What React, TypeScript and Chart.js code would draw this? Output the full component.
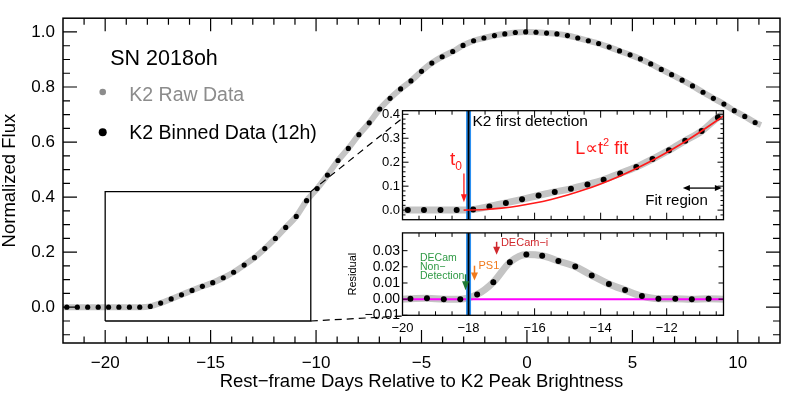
import React, { useEffect, useRef } from 'react';
import { Chart, registerables } from 'chart.js';
Chart.register(...registerables);

const FONT = '"Liberation Sans", "DejaVu Sans", Arial, sans-serif';

// ---------------- data ----------------
// 12h binned K2 light curve (rest-frame days, normalized flux)
const binX = [-21.82, -21.32, -20.83, -20.33, -19.84, -19.35, -18.85, -18.36, -17.86, -17.37, -16.87, -16.38, -15.88, -15.39,
  -14.90, -14.40, -13.91, -13.41, -12.92, -12.43, -11.93, -11.44, -10.94, -10.45, -9.95, -9.46, -8.96, -8.47, -7.97, -7.48,
  -6.98, -6.49, -5.99, -5.50, -5.00, -4.51, -4.02, -3.52, -3.03, -2.53, -2.04, -1.54, -1.05, -0.55, -0.06, 0.43, 0.93, 1.42,
  1.92, 2.41, 2.91, 3.40, 3.90, 4.39, 4.89, 5.38, 5.87, 6.37, 6.86, 7.36, 7.85, 8.35, 8.84, 9.34, 9.83, 10.33, 10.82];
const binY = [0, 0, 0, 0, 0, 0, 0, 0, 0.003, 0.015, 0.030, 0.045, 0.061, 0.076,
  0.089, 0.107, 0.127, 0.153, 0.180, 0.213, 0.250, 0.290, 0.330, 0.387, 0.431, 0.480, 0.533, 0.577, 0.627, 0.670,
  0.720, 0.759, 0.793, 0.822, 0.857, 0.887, 0.910, 0.929, 0.951, 0.968, 0.978, 0.987, 0.993, 0.998, 1.000, 0.999, 0.996, 0.993,
  0.987, 0.978, 0.968, 0.958, 0.945, 0.931, 0.917, 0.902, 0.884, 0.864, 0.845, 0.825, 0.804, 0.781, 0.759, 0.738, 0.714, 0.693, 0.671];
// raw-data band end points
const rawEdgeX = [-22.0, 11.1];
const rawEdgeY = [0.0, 0.662];

// residuals (data - t^2 fit)
const resX = [-19.76, -19.26, -18.75, -18.25, -17.74, -17.25, -16.75, -16.25, -15.77, -15.28, -14.77, -14.27, -13.75, -13.26, -12.75, -12.25, -11.74, -11.24, -10.73];
const resY = [0.0003, 0.0006, 0.0, 0.0, 0.0029, 0.0105, 0.0228, 0.0277, 0.0269, 0.0236, 0.0202, 0.0147, 0.0094, 0.0056, 0.0019, 0.0003, 0.0003, -0.0001, 0.0003];
const resErr = [0.0012, 0.0012, 0.0012, 0.0012, 0.0014, 0.0017, 0.0017, 0.0015, 0.0015, 0.0013, 0.0013, 0.0013, 0.0013, 0.0013, 0.0013, 0.0012, 0.0012, 0.0012, 0.0012];
const resRawEdgeX = [-20.0, -10.28];
const resRawEdgeY = [0.0, 0.0];

// L ∝ t^2 fit curve
const fitX = [-18.15, -17.5, -17.0, -16.5, -16.0, -15.5, -15.0, -14.5, -14.0, -13.5, -13.0, -12.5, -12.0, -11.5, -11.0, -10.5, -10.2];
const fitY = [0, 0.0027, 0.0084, 0.0173, 0.0294, 0.0447, 0.0631, 0.0847, 0.1095, 0.1375, 0.1687, 0.203, 0.2405, 0.2813, 0.3252, 0.372, 0.401];

const firstDetection = -18.0;
const zoomBoxX = [-20, -10.25];
const zoomBoxY = [-0.05, 0.42];
const insetCornerX = -5.9;
const insetCornerY = [0.687, -0.032];

// axes / ticks
const MAIN_X_MAJOR = [-20, -15, -10, -5, 0, 5, 10];
const MAIN_X_LABELS = ['−20', '−15', '−10', '−5', '0', '5', '10'];
const MAIN_X_MINOR = [-21, -19, -18, -17, -16, -14, -13, -12, -11, -9, -8, -7, -6, -4, -3, -2, -1, 1, 2, 3, 4, 6, 7, 8, 9, 11];
const MAIN_Y_MAJOR = [0, 0.2, 0.4, 0.6, 0.8, 1.0];
const MAIN_Y_LABELS = ['0.0', '0.2', '0.4', '0.6', '0.8', '1.0'];
const MAIN_Y_MINOR = [-0.1, -0.05, 0.05, 0.1, 0.15, 0.25, 0.3, 0.35, 0.45, 0.5, 0.55, 0.65, 0.7, 0.75, 0.85, 0.9, 0.95];

const INSET_X_MAJOR = [-20, -18, -16, -14, -12];
const INSET_X_LABELS = ['−20', '−18', '−16', '−14', '−12'];
const INSET_X_MINOR = [-19.5, -19, -18.5, -17.5, -17, -16.5, -15.5, -15, -14.5, -13.5, -13, -12.5, -11.5, -11, -10.5];
const TOP_Y_MAJOR = [0, 0.1, 0.2, 0.3, 0.4];
const TOP_Y_LABELS = ['0.0', '0.1', '0.2', '0.3', '0.4'];
const TOP_Y_MINOR = [-0.02, 0.02, 0.04, 0.06, 0.08, 0.12, 0.14, 0.16, 0.18, 0.22, 0.24, 0.26, 0.28, 0.32, 0.34, 0.36, 0.38];
const RES_Y_MAJOR = [-0.01, 0, 0.01, 0.02, 0.03];
const RES_Y_LABELS = ['−0.01', '0.00', '0.01', '0.02', '0.03'];

const BAND = '#c4c4c4';
const RED = '#ff1a1a';
const DRED = '#d0282d';
const ORANGE = '#f07a1e';
const GREEN = '#2f9a45';
const DGREEN = '#1d7a34';
const BLUE = '#2b8ff0';
const MAGENTA = '#ff00ff';
const GREY_TXT = '#8c8c8c';

// ---------------- helpers ----------------
const pts = (xs: number[], ys: number[]) => xs.map((x, i) => ({ x, y: ys[i] }));

function makeDecor(cfg: any) {
  return {
    id: 'decor',
    afterDatasetsDraw(chart: any) {
      const { ctx, chartArea: a, scales } = chart;
      const X = (v: number) => scales.x.getPixelForValue(v);
      const Y = (v: number) => scales.y.getPixelForValue(v);
      ctx.save();
      const f = cfg.frame;
      ctx.strokeStyle = '#000';
      ctx.lineWidth = f.tlw;
      ctx.beginPath();
      const seg = (x1: number, y1: number, x2: number, y2: number) => { ctx.moveTo(x1, y1); ctx.lineTo(x2, y2); };
      const xl: [number[], number][] = [[f.xMajor, f.xMajLen], [f.xMinor, f.xMinLen]];
      for (const [vals, len] of xl) for (const v of vals) { const p = X(v); seg(p, a.bottom, p, a.bottom - len); seg(p, a.top, p, a.top + len); }
      const yl: [number[], number][] = [[f.yMajor, f.yMajLen], [f.yMinor, f.yMinLen]];
      for (const [vals, len] of yl) for (const v of vals) { const p = Y(v); seg(a.left, p, a.left + len, p); seg(a.right, p, a.right - len, p); }
      ctx.stroke();
      ctx.lineWidth = f.lw;
      ctx.strokeRect(a.left, a.top, a.right - a.left, a.bottom - a.top);

      for (const d of cfg.dots || []) {
        ctx.fillStyle = d.color;
        ctx.beginPath(); ctx.arc(X(d.x), Y(d.y), d.r, 0, Math.PI * 2); ctx.fill();
      }
      for (const ar of cfg.arrows || []) {
        const x = X(ar.x), y1 = Y(ar.y1), y2 = Y(ar.y2);
        const dir = Math.sign(y2 - y1);
        ctx.strokeStyle = ar.color; ctx.fillStyle = ar.color; ctx.lineWidth = ar.lw;
        ctx.beginPath(); ctx.moveTo(x, y1); ctx.lineTo(x, y2 - dir * ar.hl * 0.7); ctx.stroke();
        ctx.beginPath(); ctx.moveTo(x, y2); ctx.lineTo(x - ar.hw, y2 - dir * ar.hl); ctx.lineTo(x + ar.hw, y2 - dir * ar.hl); ctx.closePath(); ctx.fill();
      }
      for (const ar of cfg.harrows || []) {
        const y = Y(ar.y), x1 = X(ar.x1), x2 = X(ar.x2);
        ctx.strokeStyle = ar.color; ctx.fillStyle = ar.color; ctx.lineWidth = ar.lw;
        ctx.beginPath(); ctx.moveTo(x1 + ar.hl * 0.7, y); ctx.lineTo(x2 - ar.hl * 0.7, y); ctx.stroke();
        ctx.beginPath(); ctx.moveTo(x1, y); ctx.lineTo(x1 + ar.hl, y - ar.hw); ctx.lineTo(x1 + ar.hl, y + ar.hw); ctx.closePath(); ctx.fill();
        ctx.beginPath(); ctx.moveTo(x2, y); ctx.lineTo(x2 - ar.hl, y - ar.hw); ctx.lineTo(x2 - ar.hl, y + ar.hw); ctx.closePath(); ctx.fill();
      }
      ctx.textBaseline = 'middle'; ctx.textAlign = 'left';
      for (const tx of cfg.texts || []) {
        let px = X(tx.x); const py = Y(tx.y);
        ctx.fillStyle = tx.color;
        for (const p of tx.parts) {
          ctx.font = `${p.size}px ${FONT}`;
          ctx.fillText(p.t, px, py + (p.dy || 0));
          px += ctx.measureText(p.t).width;
        }
      }
      ctx.restore();
    },
  };
}

const baseOpts = {
  responsive: false,
  animation: false,
  events: [],
  plugins: { legend: { display: false }, tooltip: { enabled: false } },
};
const noGrid = { grid: { display: false, drawTicks: false }, border: { display: false } };
const font = (size: number) => ({ family: FONT, size });

// ---------------- main chart ----------------
function mainConfig(): any {
  const raw = [{ x: rawEdgeX[0], y: rawEdgeY[0] }, ...pts(binX, binY), { x: rawEdgeX[1], y: rawEdgeY[1] }];
  const box = [
    { x: zoomBoxX[0], y: zoomBoxY[0] }, { x: zoomBoxX[1], y: zoomBoxY[0] }, { x: zoomBoxX[1], y: zoomBoxY[1] },
    { x: zoomBoxX[0], y: zoomBoxY[1] }, { x: zoomBoxX[0], y: zoomBoxY[0] },
  ];
  const dash1 = [{ x: zoomBoxX[1], y: zoomBoxY[1] }, { x: insetCornerX, y: insetCornerY[0] }];
  const dash2 = [{ x: zoomBoxX[1], y: zoomBoxY[0] }, { x: insetCornerX, y: insetCornerY[1] }];
  return {
    type: 'line',
    data: {
      datasets: [
        { data: raw, borderColor: BAND, borderWidth: 6, pointRadius: 0, cubicInterpolationMode: 'monotone', order: 5 },
        { data: pts(binX, binY), showLine: false, pointRadius: 2.6, pointBackgroundColor: '#000', pointBorderWidth: 0, order: 4 },
        { data: box, borderColor: '#000', borderWidth: 1.3, pointRadius: 0, order: 2 },
        { data: dash1, borderColor: '#000', borderWidth: 1.2, borderDash: [7, 5], pointRadius: 0, order: 1 },
        { data: dash2, borderColor: '#000', borderWidth: 1.2, borderDash: [7, 5], pointRadius: 0, order: 1 },
      ],
    },
    options: {
      ...baseOpts,
      layout: { padding: { left: 0, right: 9, top: 7, bottom: 0 } },
      scales: {
        x: {
          type: 'linear', min: -22, max: 12, ...noGrid,
          afterBuildTicks: (s: any) => { s.ticks = MAIN_X_MAJOR.map((v) => ({ value: v })); },
          afterFit: (s: any) => { s.height = 52; },
          ticks: { autoSkip: false, maxRotation: 0, padding: 10, color: '#000', font: font(17), callback: (_v: any, i: number) => MAIN_X_LABELS[i] },
          title: { display: true, text: 'Rest−frame Days Relative to K2 Peak Brightness', color: '#000', font: font(18.5), padding: { top: 0, bottom: 2 } },
        },
        y: {
          type: 'linear', min: -0.13, max: 1.05, ...noGrid,
          afterBuildTicks: (s: any) => { s.ticks = MAIN_Y_MAJOR.map((v) => ({ value: v })); },
          afterFit: (s: any) => { s.width = 63; },
          ticks: { autoSkip: false, padding: 8, color: '#000', font: font(17), callback: (_v: any, i: number) => MAIN_Y_LABELS[i] },
          title: { display: true, text: 'Normalized Flux', color: '#000', font: font(18.5), padding: { top: -1, bottom: 0 } },
        },
      },
    },
    plugins: [makeDecor({
      frame: { lw: 1.5, tlw: 1.2, xMajor: MAIN_X_MAJOR, xMinor: MAIN_X_MINOR, yMajor: MAIN_Y_MAJOR, yMinor: MAIN_Y_MINOR, xMajLen: 13, xMinLen: 6.5, yMajLen: 14, yMinLen: 7 },
      dots: [{ x: -20.117, y: 0.782, r: 3.3, color: GREY_TXT }, { x: -20.117, y: 0.636, r: 4, color: '#000' }],
      texts: [
        { x: -19.76, y: 0.901, color: '#000', parts: [{ t: 'SN 2018oh', size: 21.5 }] },
        { x: -18.856, y: 0.767, color: GREY_TXT, parts: [{ t: 'K2 Raw Data', size: 19.5 }] },
        { x: -18.856, y: 0.629, color: '#000', parts: [{ t: 'K2 Binned Data (12h)', size: 19.5 }] },
      ],
    })],
  };
}

// ---------------- inset: top panel ----------------
const INSET_X = { min: -20, max: -10.28 };

function topConfig(): any {
  return {
    type: 'line',
    data: {
      datasets: [
        { data: pts(binX, binY), borderColor: BAND, borderWidth: 7, pointRadius: 0, cubicInterpolationMode: 'monotone', clip: 0, order: 10 },
        { data: [{ x: firstDetection, y: -0.04 }, { x: firstDetection, y: 0.415 }], borderColor: BLUE, borderWidth: 5, pointRadius: 0, clip: 0, order: 9 },
        { data: [{ x: firstDetection, y: -0.04 }, { x: firstDetection, y: 0.415 }], borderColor: '#000', borderWidth: 1.8, pointRadius: 0, clip: 0, order: 8 },
        { data: pts(binX, binY), showLine: false, pointRadius: 3, pointBackgroundColor: '#000', pointBorderWidth: 0, order: 7 },
        { data: pts(fitX, fitY), borderColor: RED, borderWidth: 1.6, pointRadius: 0, cubicInterpolationMode: 'monotone', clip: 0, order: 6 },
      ],
    },
    options: {
      ...baseOpts,
      layout: { padding: { left: 0, right: 6.5, top: 10.7, bottom: 3 } },
      scales: {
        x: { type: 'linear', min: INSET_X.min, max: INSET_X.max, display: false },
        y: {
          type: 'linear', min: -0.04, max: 0.415, ...noGrid,
          afterBuildTicks: (s: any) => { s.ticks = TOP_Y_MAJOR.map((v) => ({ value: v })); },
          afterFit: (s: any) => { s.width = 62.5; },
          ticks: { autoSkip: false, padding: 2.5, color: '#000', font: font(13), callback: (_v: any, i: number) => TOP_Y_LABELS[i] },
        },
      },
    },
    plugins: [makeDecor({
      frame: { lw: 1.3, tlw: 1, xMajor: INSET_X_MAJOR, xMinor: INSET_X_MINOR, yMajor: TOP_Y_MAJOR, yMinor: TOP_Y_MINOR, xMajLen: 7, xMinLen: 4, yMajLen: 6, yMinLen: 3 },
      arrows: [{ x: -18.14, y1: 0.153, y2: 0.033, color: RED, lw: 1.3, hw: 3, hl: 8 }],
      harrows: [{ y: 0.092, x1: -11.51, x2: -10.33, color: '#000', lw: 1.3, hw: 3, hl: 7 }],
      texts: [
        { x: -17.88, y: 0.369, color: '#000', parts: [{ t: 'K2 first detection', size: 15.5 }] },
        { x: -18.56, y: 0.209, color: RED, parts: [{ t: 't', size: 19 }, { t: '0', size: 12, dy: 6.7 }] },
        { x: -14.77, y: 0.255, color: RED, parts: [{ t: 'L∝t', size: 18 }, { t: '2', size: 11, dy: -6 }, { t: ' fit', size: 18 }] },
        { x: -12.65, y: 0.038, color: '#000', parts: [{ t: 'Fit region', size: 15 }] },
      ],
    })],
  };
}

// ---------------- inset: residual panel ----------------
function resConfig(): any {
  const rawRes = [{ x: resRawEdgeX[0], y: resRawEdgeY[0] }, ...pts(resX, resY), { x: resRawEdgeX[1], y: resRawEdgeY[1] }];
  const err: any[] = [];
  resX.forEach((x, i) => { err.push({ x, y: resY[i] - resErr[i] }, { x, y: resY[i] + resErr[i] }, { x, y: null }); });
  return {
    type: 'line',
    data: {
      datasets: [
        { data: rawRes, borderColor: BAND, borderWidth: 7, pointRadius: 0, cubicInterpolationMode: 'monotone', clip: 0, order: 10 },
        { data: [{ x: INSET_X.min, y: 0 }, { x: INSET_X.max, y: 0 }], borderColor: MAGENTA, borderWidth: 2, pointRadius: 0, clip: 0, order: 9 },
        { data: [{ x: firstDetection, y: -0.01 }, { x: firstDetection, y: 0.041 }], borderColor: BLUE, borderWidth: 5, pointRadius: 0, clip: 0, order: 8 },
        { data: [{ x: firstDetection, y: -0.01 }, { x: firstDetection, y: 0.041 }], borderColor: '#000', borderWidth: 1.8, pointRadius: 0, clip: 0, order: 7 },
        { data: err, borderColor: '#000', borderWidth: 1, pointRadius: 0, spanGaps: false, order: 6 },
        { data: pts(resX, resY), showLine: false, pointRadius: 3, pointBackgroundColor: '#000', pointBorderWidth: 0, order: 5 },
      ],
    },
    options: {
      ...baseOpts,
      layout: { padding: { left: 0, right: 6.5, top: 5, bottom: 0 } },
      scales: {
        x: {
          type: 'linear', min: INSET_X.min, max: INSET_X.max, ...noGrid,
          afterBuildTicks: (s: any) => { s.ticks = INSET_X_MAJOR.map((v) => ({ value: v })); },
          afterFit: (s: any) => { s.height = 26.7; },
          ticks: { autoSkip: false, maxRotation: 0, padding: 5, color: '#000', font: font(13), callback: (_v: any, i: number) => INSET_X_LABELS[i] },
        },
        y: {
          type: 'linear', min: -0.01, max: 0.041, ...noGrid,
          afterBuildTicks: (s: any) => { s.ticks = RES_Y_MAJOR.map((v) => ({ value: v })); },
          afterFit: (s: any) => { s.width = 62.5; },
          ticks: { autoSkip: false, padding: 2.5, color: '#000', font: font(14), callback: (_v: any, i: number) => RES_Y_LABELS[i] },
          title: { display: true, text: 'Residual', color: '#000', font: font(11), padding: { top: 6.4, bottom: 0 } },
        },
      },
    },
    plugins: [makeDecor({
      frame: { lw: 1.3, tlw: 1, xMajor: INSET_X_MAJOR, xMinor: INSET_X_MINOR, yMajor: RES_Y_MAJOR, yMinor: [], xMajLen: 7, xMinLen: 4, yMajLen: 5, yMinLen: 0 },
      arrows: [
        { x: -18.09, y1: 0.0154, y2: 0.0055, color: DGREEN, lw: 1.5, hw: 3.5, hl: 9 },
        { x: -17.82, y1: 0.0207, y2: 0.0116, color: ORANGE, lw: 1.5, hw: 3.5, hl: 8 },
        { x: -17.15, y1: 0.0355, y2: 0.0274, color: DRED, lw: 1.5, hw: 3.5, hl: 8 },
      ],
      texts: [
        { x: -19.47, y: 0.0252, color: GREEN, parts: [{ t: 'DECam', size: 10.5 }] },
        { x: -19.47, y: 0.0197, color: GREEN, parts: [{ t: 'Non−', size: 10.5 }] },
        { x: -19.47, y: 0.0145, color: GREEN, parts: [{ t: 'Detection', size: 10.5 }] },
        { x: -17.70, y: 0.0204, color: ORANGE, parts: [{ t: 'PS1', size: 11 }] },
        { x: -17.02, y: 0.0345, color: DRED, parts: [{ t: 'DECam−i', size: 11 }] },
      ],
    })],
  };
}

export default function App() {
  const mainRef = useRef<HTMLCanvasElement>(null);
  const topRef = useRef<HTMLCanvasElement>(null);
  const resRef = useRef<HTMLCanvasElement>(null);
  useEffect(() => {
    const charts = [
      new Chart(mainRef.current as HTMLCanvasElement, mainConfig()),
      new Chart(topRef.current as HTMLCanvasElement, topConfig()),
      new Chart(resRef.current as HTMLCanvasElement, resConfig()),
    ];
    return () => charts.forEach((c) => c.destroy());
  }, []);
  return (
    <div style={{ position: 'absolute', left: 0, top: 0, width: 789, height: 395, background: '#fff' }}>
      <canvas ref={mainRef} width={789} height={395} style={{ position: 'absolute', left: 0, top: 0 }} />
      <canvas ref={topRef} width={390} height={130} style={{ position: 'absolute', left: 340, top: 100 }} />
      <canvas ref={resRef} width={390} height={120} style={{ position: 'absolute', left: 340, top: 222 }} />
    </div>
  );
}
